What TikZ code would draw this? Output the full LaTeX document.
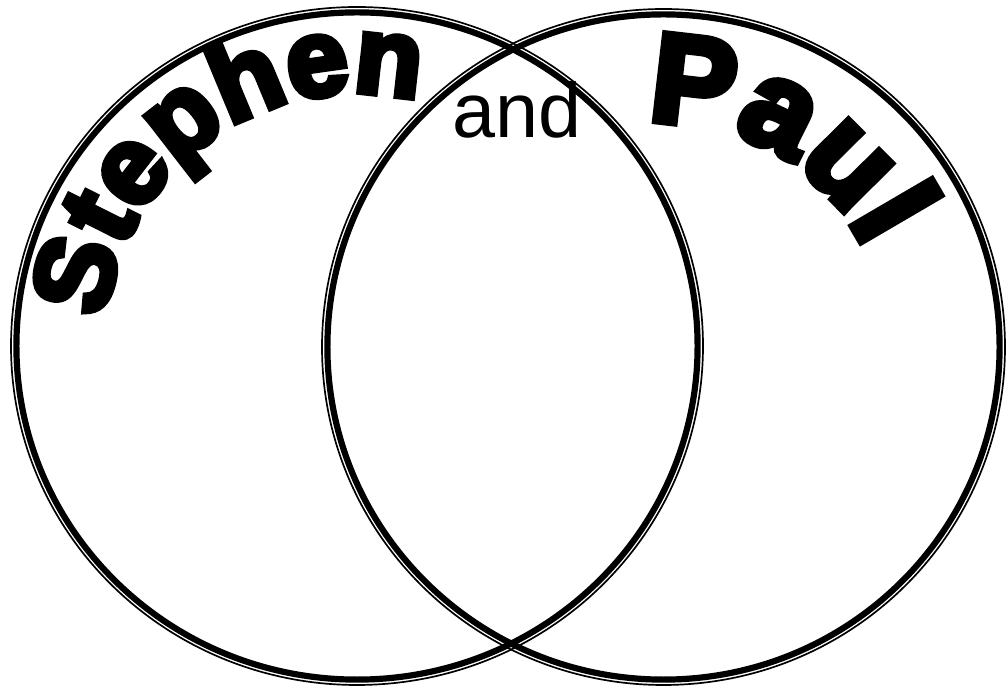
\documentclass[tikz,border=0pt]{standalone}
\usepackage{fontspec}
\setmainfont{Liberation Sans}
\newfontfamily\heavyfont[FakeBold=6]{Liberation Sans Bold}
\usetikzlibrary{decorations.text}

\begin{document}
\begin{tikzpicture}[
    x=0.025cm, y=0.025cm,
    outerring/.style={draw, line width=1.2pt},
    innerring/.style={draw, line width=4.4pt},
    curved/.style={decorate, decoration={text along path, text align=center, text={#1}}}
  ]
  \useasboundingbox (0,0) rectangle (1008,690);
  \coordinate (left) at (357,344);
  \coordinate (right) at (663.5,343);

  % left ring
  \draw[outerring] (left) ellipse[x radius=346, y radius=339];
  \draw[innerring] (left) ellipse[x radius=340.6, y radius=333.6];
  % right ring
  \draw[outerring] (right) ellipse[x radius=341.5, y radius=338];
  \draw[innerring] (right) ellipse[x radius=336.1, y radius=332.6];

  % names along the rings
  \path[curved={|\heavyfont\fontsize{78}{90}\selectfont|Stephen}] (left) ++(174:253) arc[start angle=174, end angle=76, radius=253];
  \path[curved={|\heavyfont\fontsize{90}{100}\selectfont|Paul}] (right) ++(93:224) arc[start angle=93, end angle=27, radius=224];

  \node[font=\fontsize{55}{60}\selectfont, anchor=base, inner sep=0pt] (and) at (517,552) {and};
\end{tikzpicture}
\end{document}
